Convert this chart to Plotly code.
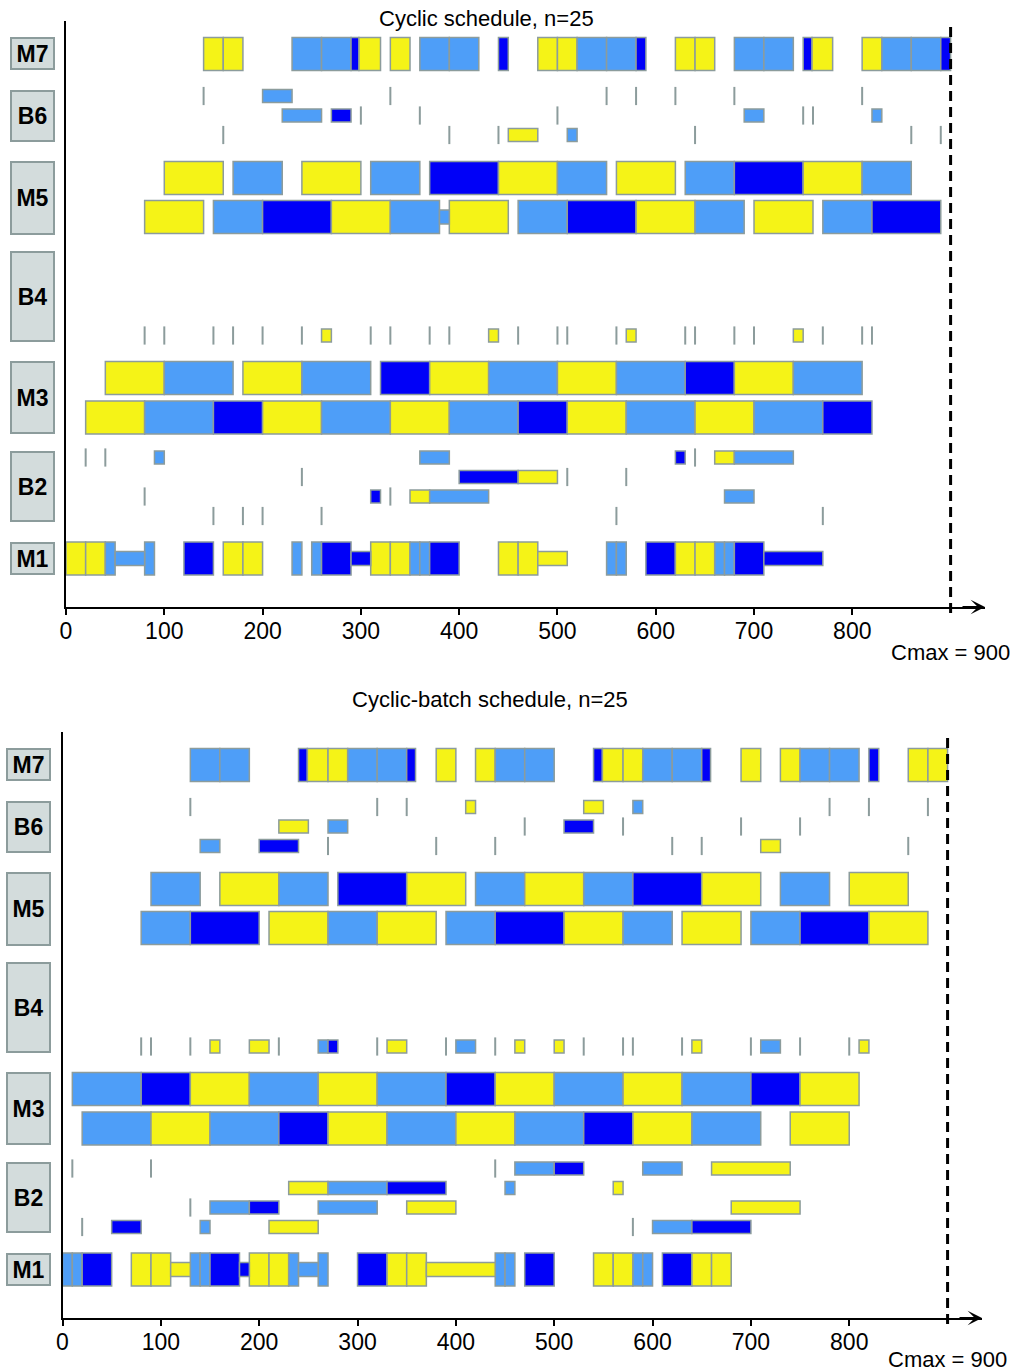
import plotly.graph_objects as go

# ---------------------------------------------------------------------------
# Schedule data: (start, end, job family) per resource lane.
# Job families: "A", "B", "C".  Zero-duration passes through a buffer
# are listed separately as single time stamps ("marks").
# ---------------------------------------------------------------------------
CMAX = 900
X_TICKS = [0, 100, 200, 300, 400, 500, 600, 700, 800]
ROW_NAMES = ["M7", "B6", "M5", "B4", "M3", "B2", "M1"]

# ----- Cyclic schedule -----------------------------------------------------
cyc_M7 = [(140, 160, "A"), (160, 180, "A"), (230, 260, "B"), (260, 290, "B"),
          (290, 298, "C"), (298, 320, "A"), (330, 350, "A"), (360, 390, "B"),
          (390, 420, "B"), (440, 450, "C"), (480, 500, "A"), (500, 520, "A"),
          (520, 550, "B"), (550, 580, "B"), (580, 590, "C"), (620, 640, "A"),
          (640, 660, "A"), (680, 710, "B"), (710, 740, "B"), (750, 759, "C"),
          (759, 780, "A"), (810, 830, "A"), (830, 860, "B"), (860, 890, "B"),
          (890, 900, "C")]

cyc_B6 = [
    [(200, 230, "B")],
    [(220, 260, "B"), (270, 290, "C"), (690, 710, "B"), (820, 830, "B")],
    [(450, 480, "A"), (510, 520, "B")],
]
cyc_B6_marks = [
    [140, 330, 550, 580, 620, 680, 810],
    [300, 360, 500, 750, 760],
    [160, 390, 440, 640, 860, 890],
]

cyc_M5 = [
    [(100, 160, "A"), (170, 220, "B"), (240, 300, "A"), (310, 360, "B"),
     (370, 440, "C"), (440, 500, "A"), (500, 550, "B"), (560, 620, "A"),
     (630, 680, "B"), (680, 750, "C"), (750, 810, "A"), (810, 860, "B")],
    [(80, 140, "A"), (150, 200, "B"), (200, 270, "C"), (270, 330, "A"),
     (330, 380, "B"), (390, 450, "A"), (460, 510, "B"), (510, 580, "C"),
     (580, 640, "A"), (640, 690, "B"), (700, 760, "A"), (770, 820, "B"),
     (820, 890, "C")],
]
cyc_M5_wait = [[], [(380, 390, "B")]]

cyc_B4 = [[(260, 270, "A"), (430, 440, "A"), (570, 580, "A"), (740, 750, "A")]]
cyc_B4_marks = [[80, 100, 150, 170, 200, 240, 310, 330, 370, 390, 460, 500,
                 510, 560, 630, 640, 680, 700, 770, 810, 820]]

cyc_M3 = [
    [(40, 100, "A"), (100, 170, "B"), (180, 240, "A"), (240, 310, "B"),
     (320, 370, "C"), (370, 430, "A"), (430, 500, "B"), (500, 560, "A"),
     (560, 630, "B"), (630, 680, "C"), (680, 740, "A"), (740, 810, "B")],
    [(20, 80, "A"), (80, 150, "B"), (150, 200, "C"), (200, 260, "A"),
     (260, 330, "B"), (330, 390, "A"), (390, 460, "B"), (460, 510, "C"),
     (510, 570, "A"), (570, 640, "B"), (640, 700, "A"), (700, 770, "B"),
     (770, 820, "C")],
]

cyc_B2 = [
    [(90, 100, "B"), (360, 390, "B"), (620, 630, "C"), (660, 680, "A"), (680, 740, "B")],
    [(400, 460, "C"), (460, 500, "A")],
    [(310, 320, "C"), (350, 370, "A"), (370, 430, "B"), (670, 700, "B")],
    [],
]
cyc_B2_marks = [
    [20, 40, 640],
    [240, 510, 570],
    [80, 330],
    [150, 180, 200, 260, 560, 770],
]

cyc_M1 = [[(0, 20, "A"), (20, 40, "A"), (40, 50, "B"), (80, 90, "B"), (120, 150, "C"),
           (160, 180, "A"), (180, 200, "A"), (230, 240, "B"), (250, 260, "B"),
           (260, 290, "C"), (310, 330, "A"), (330, 350, "A"), (350, 360, "B"),
           (360, 370, "B"), (370, 400, "C"), (440, 460, "A"), (460, 480, "A"),
           (550, 560, "B"), (560, 570, "B"), (590, 620, "C"), (620, 640, "A"),
           (640, 660, "A"), (660, 670, "B"), (670, 680, "B"), (680, 710, "C")]]
cyc_M1_wait = [[(50, 80, "B"), (290, 310, "C"), (480, 510, "A"), (710, 770, "C")]]

# ----- Cyclic-batch schedule -------------------------------------------------
bat_M7 = [(130, 160, "B"), (160, 190, "B"), (240, 249, "C"), (249, 270, "A"),
          (270, 290, "A"), (290, 320, "B"), (320, 350, "B"), (350, 359, "C"),
          (380, 400, "A"), (420, 440, "A"), (440, 470, "B"), (470, 500, "B"),
          (540, 549, "C"), (549, 570, "A"), (570, 590, "A"), (590, 620, "B"),
          (620, 650, "B"), (650, 659, "C"), (690, 710, "A"), (730, 750, "A"),
          (750, 780, "B"), (780, 810, "B"), (820, 830, "C"), (860, 880, "A"),
          (880, 900, "A")]

bat_B6 = [
    [(410, 420, "A"), (530, 550, "A"), (580, 590, "B")],
    [(220, 250, "A"), (270, 290, "B"), (510, 540, "C")],
    [(140, 160, "B"), (200, 240, "C"), (710, 730, "A")],
]
bat_B6_marks = [
    [130, 320, 350, 780, 820, 880],
    [470, 570, 690, 750],
    [270, 380, 440, 620, 650, 860],
]

bat_M5 = [
    [(90, 140, "B"), (160, 220, "A"), (220, 270, "B"), (280, 350, "C"),
     (350, 410, "A"), (420, 470, "B"), (470, 530, "A"), (530, 580, "B"),
     (580, 650, "C"), (650, 710, "A"), (730, 780, "B"), (800, 860, "A")],
    [(80, 130, "B"), (130, 200, "C"), (210, 270, "A"), (270, 320, "B"),
     (320, 380, "A"), (390, 440, "B"), (440, 510, "C"), (510, 570, "A"),
     (570, 620, "B"), (630, 690, "A"), (700, 750, "B"), (750, 820, "C"),
     (820, 880, "A")],
]

bat_B4 = [[(150, 160, "A"), (190, 210, "A"), (260, 270, "B"), (270, 280, "C"),
           (330, 350, "A"), (400, 420, "B"), (460, 470, "A"), (500, 510, "A"),
           (640, 650, "A"), (710, 730, "B"), (810, 820, "A")]]
bat_B4_marks = [[80, 90, 130, 220, 320, 390, 440, 530, 570, 580, 630, 700, 750, 800]]

bat_M3 = [
    [(10, 80, "B"), (80, 130, "C"), (130, 190, "A"), (190, 260, "B"),
     (260, 320, "A"), (320, 390, "B"), (390, 440, "C"), (440, 500, "A"),
     (500, 570, "B"), (570, 630, "A"), (630, 700, "B"), (700, 750, "C"),
     (750, 810, "A")],
    [(20, 90, "B"), (90, 150, "A"), (150, 220, "B"), (220, 270, "C"),
     (270, 330, "A"), (330, 400, "B"), (400, 460, "A"), (460, 530, "B"),
     (530, 580, "C"), (580, 640, "A"), (640, 710, "B"), (740, 800, "A")],
]

bat_B2 = [
    [(460, 500, "B"), (500, 530, "C"), (590, 630, "B"), (660, 740, "A")],
    [(230, 270, "A"), (270, 330, "B"), (330, 390, "C"), (450, 460, "B"), (560, 570, "A")],
    [(150, 190, "B"), (190, 220, "C"), (260, 320, "B"), (350, 400, "A"), (680, 750, "A")],
    [(50, 80, "C"), (140, 150, "B"), (210, 260, "A"), (600, 640, "B"), (640, 700, "C")],
]
bat_B2_marks = [
    [10, 90, 440],
    [],
    [130],
    [20, 580],
]

bat_M1 = [[(0, 10, "B"), (10, 20, "B"), (20, 50, "C"), (70, 90, "A"), (90, 110, "A"),
           (130, 140, "B"), (140, 150, "B"), (150, 180, "C"), (190, 210, "A"),
           (210, 230, "A"), (230, 240, "B"), (260, 270, "B"), (300, 330, "C"),
           (330, 350, "A"), (350, 370, "A"), (440, 450, "B"), (450, 460, "B"),
           (470, 500, "C"), (540, 560, "A"), (560, 580, "A"), (580, 590, "B"),
           (590, 600, "B"), (610, 640, "C"), (640, 660, "A"), (660, 680, "A")]]
bat_M1_wait = [[(110, 130, "A"), (180, 190, "C"), (240, 260, "B"), (370, 440, "A")]]

# ---------------------------------------------------------------------------
# Styling and vertical geometry (y is measured in pixels above the time axis)
# ---------------------------------------------------------------------------
FONT = "Liberation Sans, Arial, sans-serif"
FAMILY_COLOURS = {"A": "#f5f317", "B": "#4e9ef8", "C": "#0000f8"}
EDGE = "#8c9c9c"
BOX_FILL = "#d3dcdc"

FULL_H = 33      # machine bar height
WAIT_H = 14      # blocked / waiting bar height
BUF_H = 13       # buffer lane bar height

LANES = {
    "M7": [553], "B6": [511, 491.5, 472], "M5": [429, 390],
    "B4": [271.5], "M3": [229, 189.5], "B2": [149.5, 130, 110.5, 91],
    "M1": [48.5],
}
BOXES = {  # (centre, height) of the row label boxes
    "M7": (553.5, 33), "B6": (491.5, 52), "M5": (409, 74), "B4": (310.5, 91),
    "M3": (209.5, 73), "B2": (120.5, 71), "M1": (48.5, 33),
}
Y_SPAN = 586
X_END = 935

W, H = 1013, 1371

schedules = [
    dict(title="Cyclic schedule, n=25", xa="x", ya="y",
         title_x=486, title_dy=589, box_x=32.5, cmax_dy=-45,
         xdom=(66, 985), ydom=(21, 607),
         bars={"M7": [cyc_M7], "B6": cyc_B6, "M5": cyc_M5, "B4": cyc_B4,
               "M3": cyc_M3, "B2": cyc_B2, "M1": cyc_M1},
         waits={"M5": cyc_M5_wait, "M1": cyc_M1_wait},
         marks={"B6": cyc_B6_marks, "B4": cyc_B4_marks, "B2": cyc_B2_marks}),
    dict(title="Cyclic-batch schedule, n=25", xa="x2", ya="y2",
         title_x=490, title_dy=619, box_x=28.5, cmax_dy=-41,
         xdom=(62.5, 982), ydom=(732, 1318),
         bars={"M7": [bat_M7], "B6": bat_B6, "M5": bat_M5, "B4": bat_B4,
               "M3": bat_M3, "B2": bat_B2, "M1": bat_M1},
         waits={"M1": bat_M1_wait},
         marks={"B6": bat_B6_marks, "B4": bat_B4_marks, "B2": bat_B2_marks}),
]

fig = go.Figure()
annotations = []
shapes = []
layout_axes = {}

for sc in schedules:
    base, dur, ys, hs, cols = [], [], [], [], []

    def collect(lanes_data, row, height):
        for lane_y, segs in zip(LANES[row], lanes_data):
            for s, e, fam in segs:
                base.append(s)
                dur.append(e - s)
                ys.append(lane_y)
                hs.append(height)
                cols.append(FAMILY_COLOURS[fam])

    for row, lanes_data in sc["bars"].items():
        collect(lanes_data, row, BUF_H if row.startswith("B") else FULL_H)
    for row, lanes_data in sc["waits"].items():
        collect(lanes_data, row, WAIT_H)

    fig.add_trace(go.Bar(
        orientation="h", base=base, x=dur, y=ys, width=hs,
        marker=dict(color=cols, line=dict(color=EDGE, width=1.5)),
        xaxis=sc["xa"], yaxis=sc["ya"], hoverinfo="skip", showlegend=False,
    ))

    mx, my = [], []
    for row, lanes_marks in sc["marks"].items():
        for lane_y, times in zip(LANES[row], lanes_marks):
            mx.extend(times)
            my.extend([lane_y] * len(times))
    fig.add_trace(go.Scatter(
        x=mx, y=my, mode="markers",
        marker=dict(symbol="line-ns", size=BUF_H, line=dict(width=2, color=EDGE)),
        xaxis=sc["xa"], yaxis=sc["ya"], hoverinfo="skip", showlegend=False,
        cliponaxis=False,
    ))

    xkey = "xaxis" if sc["xa"] == "x" else "xaxis2"
    ykey = "yaxis" if sc["ya"] == "y" else "yaxis2"
    layout_axes[xkey] = dict(
        domain=[sc["xdom"][0] / W, sc["xdom"][1] / W], range=[0, X_END],
        anchor=sc["ya"], showline=True, linecolor="black", linewidth=2,
        ticks="outside", tickvals=X_TICKS, ticklen=6, tickwidth=2,
        tickcolor="black", tickfont=dict(family=FONT, size=23, color="black"),
        ticklabelstandoff=-4,
        showgrid=False, zeroline=False, fixedrange=True,
    )
    layout_axes[ykey] = dict(
        domain=[1 - sc["ydom"][1] / H, 1 - sc["ydom"][0] / H],
        range=[0, Y_SPAN], anchor=sc["xa"], showline=True, linecolor="black",
        linewidth=2, showticklabels=False, ticks="", showgrid=False,
        zeroline=False, fixedrange=True,
    )
    ydom_ref = f"{sc['ya']} domain"

    # row label boxes
    for row in ROW_NAMES:
        cy, bh = BOXES[row]
        annotations.append(dict(
            text=f"<b>{row}</b>", xref="paper", yref=ydom_ref,
            x=sc["box_x"] / W, y=cy / Y_SPAN, showarrow=False,
            xanchor="center", yanchor="middle",
            width=41, height=bh - 4, bgcolor=BOX_FILL, bordercolor=EDGE,
            borderwidth=2, borderpad=0, valign="middle",
            font=dict(family=FONT, size=23, color="black"),
        ))

    # chart title
    annotations.append(dict(
        text=sc["title"], xref="paper", yref=ydom_ref, x=sc["title_x"] / W,
        y=sc["title_dy"] / Y_SPAN, showarrow=False, xanchor="center",
        yanchor="middle", font=dict(family=FONT, size=22, color="black"),
    ))

    # arrow head at the end of the time axis
    annotations.append(dict(
        x=X_END, y=0, xref=sc["xa"], yref=sc["ya"], ax=-24, ay=0,
        text="", showarrow=True, arrowhead=3, arrowsize=1.2, arrowwidth=2,
        arrowcolor="black",
    ))

    # makespan marker and label
    shapes.append(dict(
        type="line", xref=sc["xa"], yref=ydom_ref,
        x0=CMAX, x1=CMAX, y0=-6 / Y_SPAN, y1=(Y_SPAN - 1) / Y_SPAN,
        line=dict(color="black", width=3, dash="10px,6px"), layer="above",
    ))
    annotations.append(dict(
        text=f"Cmax = {CMAX}", xref=sc["xa"], yref=ydom_ref, x=CMAX,
        y=sc["cmax_dy"] / Y_SPAN, showarrow=False, xanchor="center",
        yanchor="middle", font=dict(family=FONT, size=22, color="black"),
    ))

fig.update_layout(
    width=W, height=H,
    margin=dict(l=0, r=0, t=0, b=0, pad=0, autoexpand=False),
    paper_bgcolor="white", plot_bgcolor="white",
    barmode="overlay", showlegend=False,
    annotations=annotations, shapes=shapes,
    font=dict(family=FONT, size=22, color="black"),
    **layout_axes,
)

fig.write_html("out.html")
